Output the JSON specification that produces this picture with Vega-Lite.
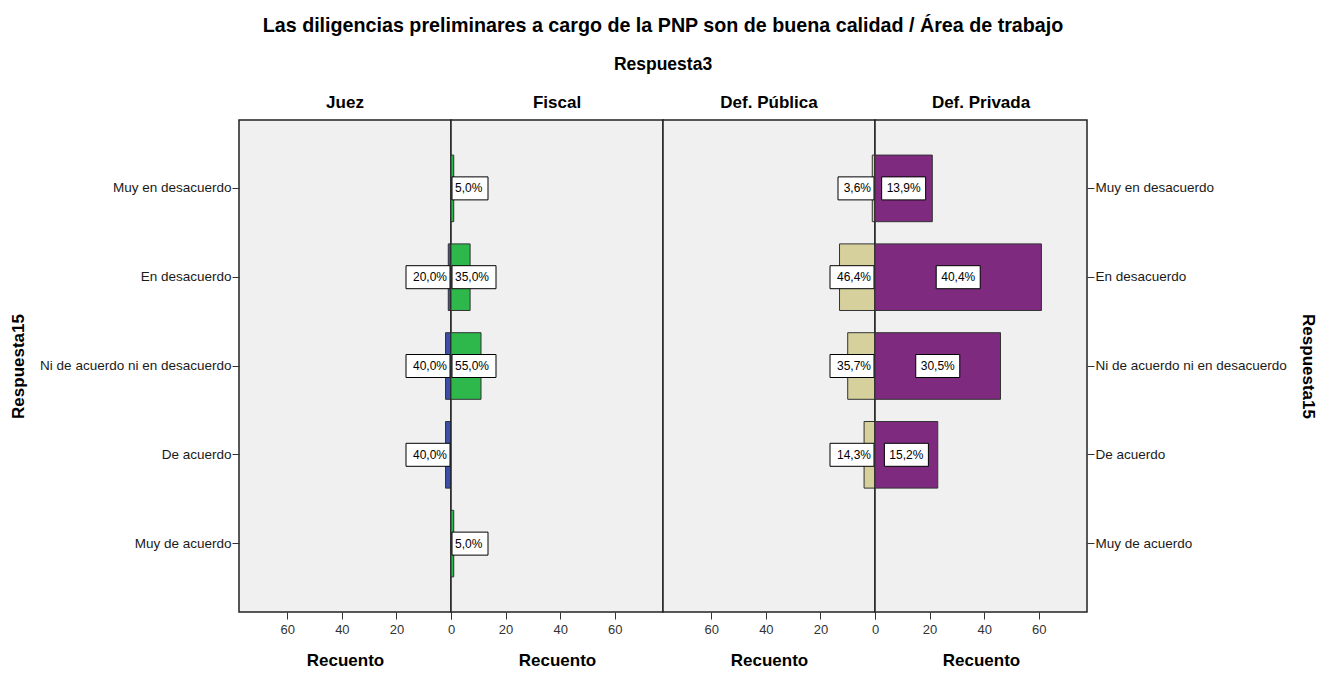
{
  "$schema": "https://vega.github.io/schema/vega-lite/v6.json",
  "padding": {"left": 8, "top": 16, "right": 5, "bottom": 2},
  "data": {
    "values": [
      {"area": "Juez", "respuesta": "En desacuerdo", "count": 1, "pct": "20,0%"},
      {"area": "Juez", "respuesta": "Ni de acuerdo ni en desacuerdo", "count": 2, "pct": "40,0%"},
      {"area": "Juez", "respuesta": "De acuerdo", "count": 2, "pct": "40,0%"},
      {"area": "Fiscal", "respuesta": "Muy en desacuerdo", "count": 1, "pct": "5,0%"},
      {"area": "Fiscal", "respuesta": "En desacuerdo", "count": 7, "pct": "35,0%"},
      {"area": "Fiscal", "respuesta": "Ni de acuerdo ni en desacuerdo", "count": 11, "pct": "55,0%"},
      {"area": "Fiscal", "respuesta": "Muy de acuerdo", "count": 1, "pct": "5,0%"},
      {"area": "Def. Pública", "respuesta": "Muy en desacuerdo", "count": 1, "pct": "3,6%"},
      {"area": "Def. Pública", "respuesta": "En desacuerdo", "count": 13, "pct": "46,4%"},
      {"area": "Def. Pública", "respuesta": "Ni de acuerdo ni en desacuerdo", "count": 10, "pct": "35,7%"},
      {"area": "Def. Pública", "respuesta": "De acuerdo", "count": 4, "pct": "14,3%"},
      {"area": "Def. Privada", "respuesta": "Muy en desacuerdo", "count": 21, "pct": "13,9%"},
      {"area": "Def. Privada", "respuesta": "En desacuerdo", "count": 61, "pct": "40,4%"},
      {"area": "Def. Privada", "respuesta": "Ni de acuerdo ni en desacuerdo", "count": 46, "pct": "30,5%"},
      {"area": "Def. Privada", "respuesta": "De acuerdo", "count": 23, "pct": "15,2%"}
    ]
  },
  "title": {
    "text": "Las diligencias preliminares a cargo de la PNP son de buena calidad / Área de trabajo",
    "subtitle": "Respuesta3",
    "fontSize": 19.7,
    "fontWeight": "bold",
    "color": "#000",
    "subtitleFontSize": 17.5,
    "subtitleFontWeight": "bold",
    "subtitleColor": "#000",
    "subtitlePadding": 20,
    "anchor": "middle",
    "offset": 20
  },
  "spacing": 0,
  "bounds": "flush",
  "hconcat": [
    {
      "width": 212,
      "height": 492,
      "title": {"text": "Juez", "fontSize": 17, "fontWeight": "bold", "offset": 8, "anchor": "middle"},
      "transform": [{"filter": "datum.area === 'Juez'"}],
      "encoding": {
        "y": {
          "field": "respuesta", "type": "nominal",
          "scale": {"domain": ["Muy en desacuerdo", "En desacuerdo", "Ni de acuerdo ni en desacuerdo", "De acuerdo", "Muy de acuerdo"], "paddingInner": 0.25, "paddingOuter": 0.395},
          "axis": {"title": "Respuesta15", "orient": "left", "labelFontSize": 13.5, "labelColor": "#1a1a1a", "labelPadding": 1, "tickSize": 7, "tickColor": "#333", "domain": false, "titleFontSize": 17, "titleFontWeight": "bold", "titleColor": "#000", "titlePadding": 12, "labelLimit": 300}
        }
      },
      "resolve": {"scale": {"x": "independent"}},
      "layer": [
        {
          "mark": {"type": "bar", "fill": "#3a4faa", "stroke": "#333", "strokeWidth": 1},
          "encoding": {
            "x": {"field": "count", "type": "quantitative", "scale": {"domain": [0, 77.7], "reverse": true, "nice": false},
              "axis": {"values": [0, 20, 40, 60], "title": "Recuento", "labelFontSize": 13, "labelColor": "#333", "labelFlush": false, "tickSize": 7, "tickColor": "#333", "labelPadding": 4, "domain": false, "grid": false, "titleFontSize": 17, "titleFontWeight": "bold", "titleColor": "#000", "titlePadding": 16}}
          }
        },
        {
          "mark": {"type": "point", "filled": true, "fill": "white", "stroke": "#000", "strokeWidth": 1, "opacity": 1, "size": 10000},
          "encoding": {
            "x": {"datum": 0, "type": "quantitative", "scale": {"domain": [0, 77.7], "reverse": true, "nice": false}, "axis": null},
            "shape": {"condition": {"test": "length(datum.pct) > 4", "value": "M-0.9,-0.23H-0.02V0.23H-0.9Z"}, "value": "M-0.74,-0.23H-0.02V0.23H-0.74Z"}
          }
        },
        {
          "mark": {"type": "text", "align": "right", "baseline": "middle", "dx": -4, "fontSize": 12, "color": "#000"},
          "encoding": {
            "x": {"datum": 0, "type": "quantitative", "scale": {"domain": [0, 77.7], "reverse": true, "nice": false}, "axis": null},
            "text": {"field": "pct"}
          }
        }
      ]
    },
    {
      "width": 212,
      "height": 492,
      "title": {"text": "Fiscal", "fontSize": 17, "fontWeight": "bold", "offset": 8, "anchor": "middle"},
      "transform": [{"filter": "datum.area === 'Fiscal'"}],
      "encoding": {
        "y": {
          "field": "respuesta", "type": "nominal",
          "scale": {"domain": ["Muy en desacuerdo", "En desacuerdo", "Ni de acuerdo ni en desacuerdo", "De acuerdo", "Muy de acuerdo"], "paddingInner": 0.25, "paddingOuter": 0.395},
          "axis": null
        }
      },
      "resolve": {"scale": {"x": "independent"}},
      "layer": [
        {
          "mark": {"type": "bar", "fill": "#2eb84b", "stroke": "#333", "strokeWidth": 1},
          "encoding": {
            "x": {"field": "count", "type": "quantitative", "scale": {"domain": [0, 77.7], "nice": false},
              "axis": {"values": [0, 20, 40, 60], "labelExpr": "datum.value === 0 ? '' : datum.label", "title": "Recuento", "labelFontSize": 13, "labelColor": "#333", "labelFlush": false, "tickSize": 7, "tickColor": "#333", "labelPadding": 4, "domain": false, "grid": false, "titleFontSize": 17, "titleFontWeight": "bold", "titleColor": "#000", "titlePadding": 16}}
          }
        },
        {
          "mark": {"type": "point", "filled": true, "fill": "white", "stroke": "#000", "strokeWidth": 1, "opacity": 1, "size": 10000},
          "encoding": {
            "x": {"datum": 0, "type": "quantitative", "scale": {"domain": [0, 77.7], "nice": false}, "axis": null},
            "shape": {"condition": {"test": "length(datum.pct) > 4", "value": "M0.02,-0.23H0.9V0.23H0.02Z"}, "value": "M0.02,-0.23H0.74V0.23H0.02Z"}
          }
        },
        {
          "mark": {"type": "text", "align": "left", "baseline": "middle", "dx": 4, "fontSize": 12, "color": "#000"},
          "encoding": {
            "x": {"datum": 0, "type": "quantitative", "scale": {"domain": [0, 77.7], "nice": false}, "axis": null},
            "text": {"field": "pct"}
          }
        }
      ]
    },
    {
      "width": 212,
      "height": 492,
      "title": {"text": "Def. Pública", "fontSize": 17, "fontWeight": "bold", "offset": 8, "anchor": "middle"},
      "transform": [{"filter": "datum.area === 'Def. Pública'"}],
      "encoding": {
        "y": {
          "field": "respuesta", "type": "nominal",
          "scale": {"domain": ["Muy en desacuerdo", "En desacuerdo", "Ni de acuerdo ni en desacuerdo", "De acuerdo", "Muy de acuerdo"], "paddingInner": 0.25, "paddingOuter": 0.395},
          "axis": null
        }
      },
      "resolve": {"scale": {"x": "independent"}},
      "layer": [
        {
          "mark": {"type": "bar", "fill": "#d6d19c", "stroke": "#333", "strokeWidth": 1},
          "encoding": {
            "x": {"field": "count", "type": "quantitative", "scale": {"domain": [0, 77.7], "reverse": true, "nice": false},
              "axis": {"values": [0, 20, 40, 60], "title": "Recuento", "labelFontSize": 13, "labelColor": "#333", "labelFlush": false, "tickSize": 7, "tickColor": "#333", "labelPadding": 4, "domain": false, "grid": false, "titleFontSize": 17, "titleFontWeight": "bold", "titleColor": "#000", "titlePadding": 16}}
          }
        },
        {
          "mark": {"type": "point", "filled": true, "fill": "white", "stroke": "#000", "strokeWidth": 1, "opacity": 1, "size": 10000},
          "encoding": {
            "x": {"datum": 0, "type": "quantitative", "scale": {"domain": [0, 77.7], "reverse": true, "nice": false}, "axis": null},
            "shape": {"condition": {"test": "length(datum.pct) > 4", "value": "M-0.9,-0.23H-0.02V0.23H-0.9Z"}, "value": "M-0.74,-0.23H-0.02V0.23H-0.74Z"}
          }
        },
        {
          "mark": {"type": "text", "align": "right", "baseline": "middle", "dx": -4, "fontSize": 12, "color": "#000"},
          "encoding": {
            "x": {"datum": 0, "type": "quantitative", "scale": {"domain": [0, 77.7], "reverse": true, "nice": false}, "axis": null},
            "text": {"field": "pct"}
          }
        }
      ]
    },
    {
      "width": 212,
      "height": 492,
      "title": {"text": "Def. Privada", "fontSize": 17, "fontWeight": "bold", "offset": 8, "anchor": "middle"},
      "transform": [{"filter": "datum.area === 'Def. Privada'"}],
      "encoding": {
        "y": {
          "field": "respuesta", "type": "nominal",
          "scale": {"domain": ["Muy en desacuerdo", "En desacuerdo", "Ni de acuerdo ni en desacuerdo", "De acuerdo", "Muy de acuerdo"], "paddingInner": 0.25, "paddingOuter": 0.395},
          "axis": {"title": "Respuesta15", "orient": "right", "labelFontSize": 13.5, "labelColor": "#1a1a1a", "labelPadding": 1, "tickSize": 7, "tickColor": "#333", "domain": false, "titleFontSize": 17, "titleFontWeight": "bold", "titleColor": "#000", "titlePadding": 12, "labelLimit": 300}
        }
      },
      "resolve": {"scale": {"x": "independent"}},
      "layer": [
        {
          "mark": {"type": "bar", "fill": "#7d2a7f", "stroke": "#333", "strokeWidth": 1},
          "encoding": {
            "x": {"field": "count", "type": "quantitative", "scale": {"domain": [0, 77.7], "nice": false},
              "axis": {"values": [0, 20, 40, 60], "labelExpr": "datum.value === 0 ? '' : datum.label", "title": "Recuento", "labelFontSize": 13, "labelColor": "#333", "labelFlush": false, "tickSize": 7, "tickColor": "#333", "labelPadding": 4, "domain": false, "grid": false, "titleFontSize": 17, "titleFontWeight": "bold", "titleColor": "#000", "titlePadding": 16}}
          }
        },
        {
          "mark": {"type": "point", "filled": true, "fill": "white", "stroke": "#000", "strokeWidth": 1, "opacity": 1, "size": 10000, "shape": "M-0.44,-0.23H0.44V0.23H-0.44Z"},
          "encoding": {
            "x": {"field": "count", "type": "quantitative", "scale": {"domain": [0, 155.4], "nice": false}, "axis": null}
          }
        },
        {
          "mark": {"type": "text", "align": "center", "baseline": "middle", "fontSize": 12, "color": "#000"},
          "encoding": {
            "x": {"field": "count", "type": "quantitative", "scale": {"domain": [0, 155.4], "nice": false}, "axis": null},
            "text": {"field": "pct"}
          }
        }
      ]
    }
  ],
  "config": {
    "font": "Liberation Sans",
    "view": {"stroke": "#222", "strokeWidth": 1.5, "fill": "#f0f0f0"},
    "background": "white"
  }
}
